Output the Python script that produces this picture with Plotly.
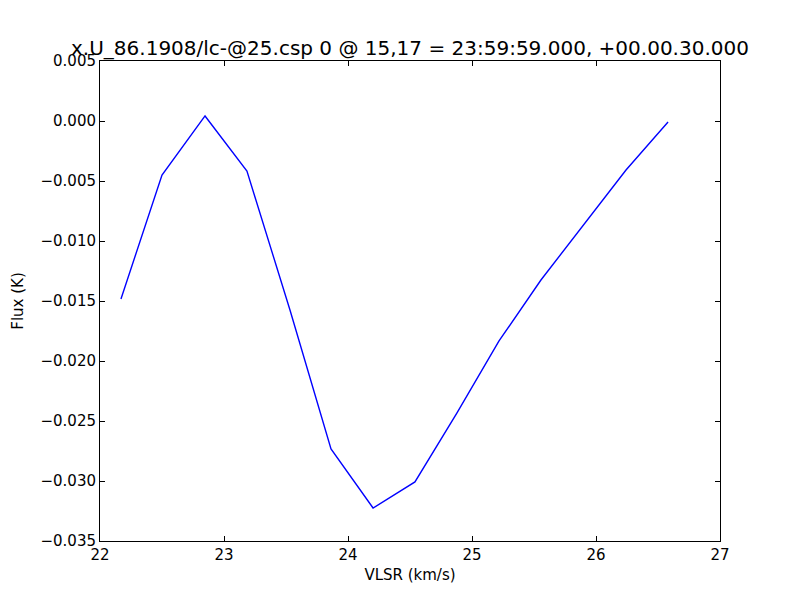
import plotly.graph_objects as go

vlsr = [22.169, 22.500, 22.847, 23.185, 23.532, 23.863, 24.202, 24.540,
        24.879, 25.218, 25.556, 25.895, 26.242, 26.581]
flux = [-0.01483, -0.00450, 0.00042, -0.00417, -0.01575, -0.02733, -0.03225,
        -0.03008, -0.02433, -0.01833, -0.01325, -0.00867, -0.00408, -0.00008]

x_ticks = [22, 23, 24, 25, 26, 27]
y_ticks = [0.005, 0.0, -0.005, -0.010, -0.015, -0.020, -0.025, -0.030, -0.035]

title_text = "x.U_86.1908/lc-@25.csp 0 @ 15,17 = 23:59:59.000, +00.00.30.000"

fig = go.Figure()
fig.add_trace(go.Scatter(x=vlsr, y=flux, mode="lines",
                         line=dict(color="#0000ff", width=1.4),
                         showlegend=False, hoverinfo="skip"))

axis_common = dict(
    showline=True, linecolor="black", linewidth=1, mirror="ticks",
    ticks="inside", ticklen=5, tickwidth=1, tickcolor="black",
    showgrid=False, zeroline=False, automargin=False,
    tickfont=dict(family="DejaVu Sans", size=15, color="black"),
)

fig.update_layout(
    width=800, height=600,
    margin=dict(l=92, r=88, t=53, b=67),
    paper_bgcolor="white", plot_bgcolor="white",
    font=dict(family="DejaVu Sans", color="black"),
    title=dict(text=title_text, x=0.5, xanchor="center", xref="paper",
               y=1 - 40 / 600, yref="container", yanchor="middle",
               font=dict(family="DejaVu Sans", size=20, color="black")),
    xaxis=dict(axis_common, range=[22, 27], tickmode="array", tickvals=x_ticks,
               title=dict(text="VLSR (km/s)", standoff=6,
                          font=dict(family="DejaVu Sans", size=15))),
    yaxis=dict(axis_common, range=[-0.035, 0.005], tickmode="array",
               tickvals=y_ticks, tickformat=".3f",
               title=dict(text="Flux (K)", standoff=13,
                          font=dict(family="DejaVu Sans", size=15))),
)

fig.write_html("out.html")
